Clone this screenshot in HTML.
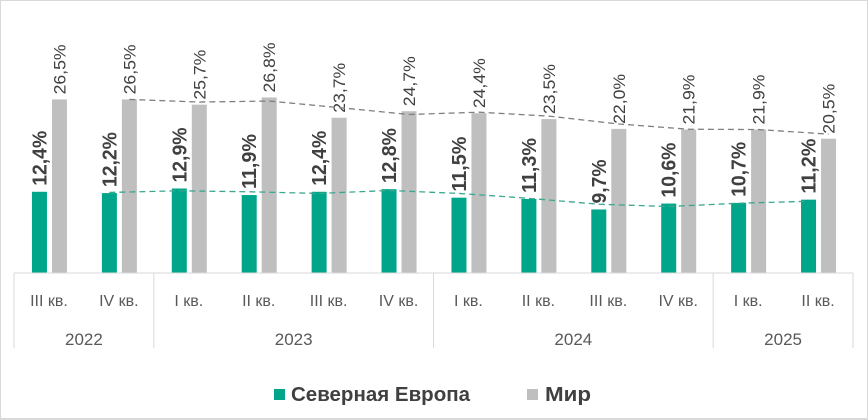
<!DOCTYPE html>
<html><head><meta charset="utf-8"><style>
body{margin:0;background:#fff;}
#wrap{position:relative;width:868px;height:420px;overflow:hidden;font-family:"Liberation Sans",sans-serif;}
#frame{position:absolute;left:0;top:0;width:866px;height:417px;border:1px solid #d9d9d9;border-bottom:2px solid #d9d9d9;}
</style></head><body>
<div id="wrap">
<div id="frame"></div>
<svg id="chart" width="868" height="420" style="position:absolute;left:0;top:0"></svg>
</div>
<script>
const quarters=["III кв.","IV кв.","I кв.","II кв.","III кв.","IV кв.","I кв.","II кв.","III кв.","IV кв.","I кв.","II кв."];
const years=["2022","2023","2024","2025"];
const yearSpans=[2,4,4,2];
const northEurope=[12.4,12.2,12.9,11.9,12.4,12.8,11.5,11.3,9.7,10.6,10.7,11.2];
const world=[26.5,26.5,25.7,26.8,23.7,24.7,24.4,23.5,22.0,21.9,21.9,20.5];

const svg=document.getElementById('chart');
const NS='http://www.w3.org/2000/svg';
const X0=14,X1=853,BASE=273,K=6.55;
const cw=(X1-X0)/quarters.length;
const cx=i=>X0+cw*(i+0.5);
const y=v=>BASE-v*K;
function mk(tag,attrs,parent){const e=document.createElementNS(NS,tag);for(const k in attrs)e.setAttribute(k,attrs[k]);(parent||svg).appendChild(e);return e;}
const fmt=v=>v.toFixed(1).replace('.',',')+'%';

for(let i=0;i<quarters.length;i++){
  const g=mk('rect',{x:cx(i)-17,y:y(northEurope[i]),width:15,height:northEurope[i]*K,fill:'#00a58a'});
  
  
  const w=mk('rect',{x:cx(i)+3,y:y(world[i]),width:15,height:world[i]*K,fill:'#bfbfbf'});
  
  
  const s1=fmt(northEurope[i]);
  const lx=cx(i)-9.5+7, ly=y(northEurope[i])-6;
  const t1=mk('text',{x:lx,y:ly,transform:`rotate(-90 ${lx} ${ly})`,'font-size':'20','font-weight':'bold',fill:'#404040',textLength:s1.length*11,lengthAdjust:'spacingAndGlyphs'});
  t1.textContent=s1;
  
  
  const s2=fmt(world[i]);
  const wx=cx(i)+10.5+6, wy=y(world[i])-5;
  const t2=mk('text',{x:wx,y:wy,transform:`rotate(-90 ${wx} ${wy})`,'font-size':'17',fill:'#404040',textLength:s2.length*10,lengthAdjust:'spacingAndGlyphs'});
  t2.textContent=s2;
  
  
  const q=mk('text',{x:cx(i),y:306,'font-size':'16','text-anchor':'middle',fill:'#595959'});
  q.textContent=quarters[i];
  
  
}
function ma(arr,off,color,name){
  let pts=[];
  for(let i=1;i<arr.length;i++)pts.push((cx(i)+off)+','+y((arr[i]+arr[i-1])/2));
  const p=mk('polyline',{points:pts.join(' '),fill:'none',stroke:color,'stroke-width':'1.3','stroke-dasharray':'6,4'});
  
  
}
ma(world,10.5,'#808080','trend-world');
ma(northEurope,-9.5,'#3aa88f','trend-north-europe');

const ax=mk('line',{x1:X0,x2:X1,y1:BASE,y2:BASE,stroke:'#d9d9d9','stroke-width':'1'});


let idx=0;
const sep0=mk('line',{x1:X0,x2:X0,y1:BASE,y2:348,stroke:'#d9d9d9'});


for(let j=0;j<years.length;j++){
  const a=X0+cw*idx; idx+=yearSpans[j]; const b=X0+cw*idx;
  const s=mk('line',{x1:b,x2:b,y1:BASE,y2:348,stroke:'#d9d9d9'});
  
  
  const t=mk('text',{x:(a+b)/2,y:345,'font-size':'17','text-anchor':'middle',fill:'#595959'});
  t.textContent=years[j];
  
  
}
const l1=mk('rect',{x:274,y:389,width:11,height:11,fill:'#00a58a'});


const lt1=mk('text',{x:291,y:401,'font-size':'20','font-weight':'bold',fill:'#404040',textLength:'179',lengthAdjust:'spacingAndGlyphs'});
lt1.textContent='Северная Европа';


const l2=mk('rect',{x:527,y:389,width:11,height:11,fill:'#bfbfbf'});


const lt2=mk('text',{x:545,y:401,'font-size':'20','font-weight':'bold',fill:'#404040',textLength:'46',lengthAdjust:'spacingAndGlyphs'});
lt2.textContent='Мир';


</script>
</body></html>
